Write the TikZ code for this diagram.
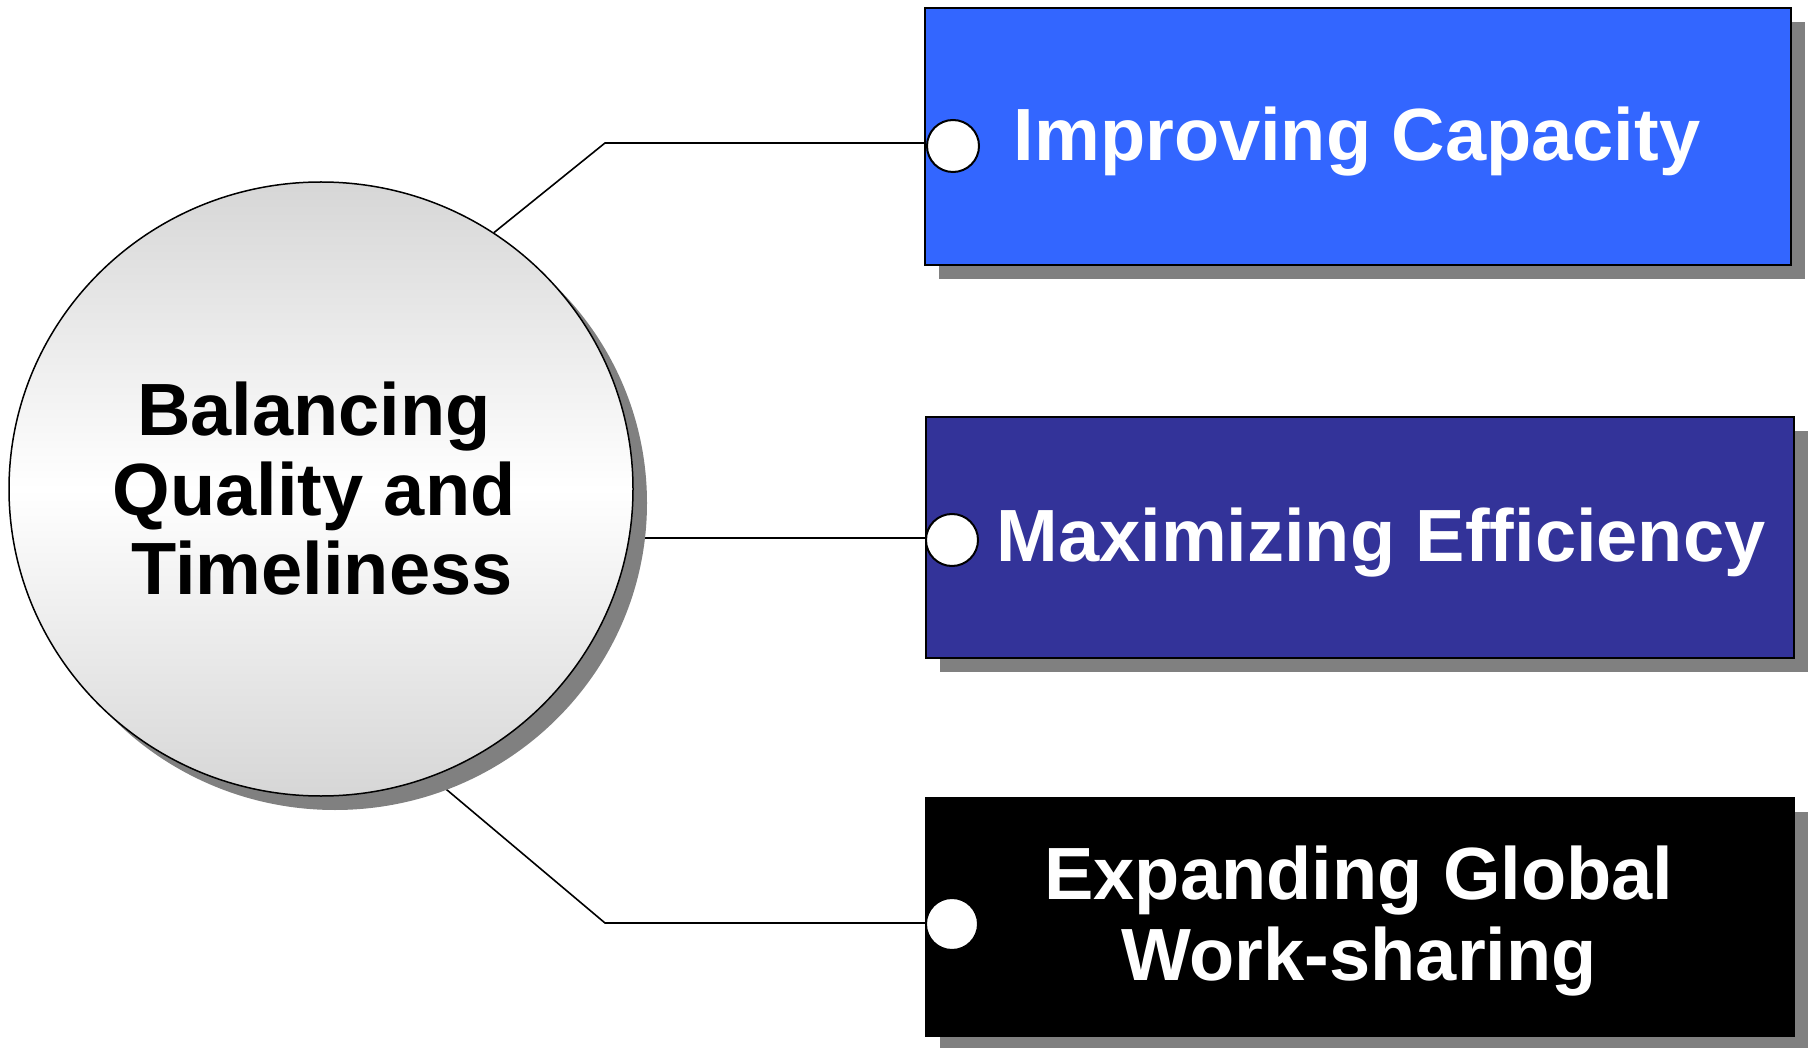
\documentclass[tikz,border=0pt]{standalone}
\usepackage{fontspec}
\setmainfont{Liberation Sans}
\usetikzlibrary{shadows,backgrounds,shapes.geometric}
\definecolor{capblue}{HTML}{3366FF}
\definecolor{effnavy}{HTML}{333399}
\definecolor{shadowgray}{HTML}{808080}
\begin{document}
\begin{tikzpicture}[x=1pt,y=-1pt,
  box/.style={draw=black, line width=2.5pt, rectangle, inner sep=0pt},
  shad/.style={drop shadow={shadow xshift=14pt, shadow yshift=-14pt, fill=shadowgray, opacity=1}},
  lbl/.style={text=white, font=\fontsize{74}{81}\selectfont\bfseries, inner sep=0pt, align=center},
  port/.style={circle, draw=black, fill=white, line width=2pt, minimum size=52pt, inner sep=0pt},
  link/.style={draw=black, line width=1.6pt}]
\useasboundingbox (0,0) rectangle (1808,1048);
% boxes
\node[box, shad, fill=capblue, minimum width=866pt, minimum height=257pt] (b1) at (1358,136.5) {};
\node[box, shad, fill=effnavy, minimum width=868pt, minimum height=241pt] (b2) at (1360,537.5) {};
\node[box, shad, fill=black, minimum width=868pt, minimum height=238pt] (b3) at (1360,917) {};
% central circle
\node[ellipse, draw=black, line width=1.5pt, top color=black!16, bottom color=black!16, middle color=white,
      minimum width=624pt, minimum height=614pt, inner sep=0pt, shad] (c) at (321,489) {};
% texts
\node[lbl, anchor=base] (t1) at (1357,161) {Improving Capacity};
\node[lbl, anchor=base] (t2) at (1381,561.5) {Maximizing Efficiency};
\node[lbl] (t3) at (1359,921) {Expanding Global\\Work-sharing};
\node[lbl, text=black, font=\fontsize{74}{79.5}\selectfont\bfseries] (tc) at (314,489) {Balancing\\Quality and\\\hspace*{16pt}Timeliness};
% ports
\node[port] (d1) at (953,146) {};
\node[port] (d2) at (952,540) {};
\node[port] (d3) at (952,924) {};
% connectors
\begin{scope}[on background layer]
\coordinate (k1) at (605,143);
\coordinate (k3) at (605,923);
\draw[link] (c.56) -- (k1) -- (k1 -| d1.center);
\draw[link] (c.-9) -- (c.-9 -| d2.center);
\draw[link] (c.-69) -- (k3) -- (k3 -| d3.center);
\end{scope}
\end{tikzpicture}
\end{document}
